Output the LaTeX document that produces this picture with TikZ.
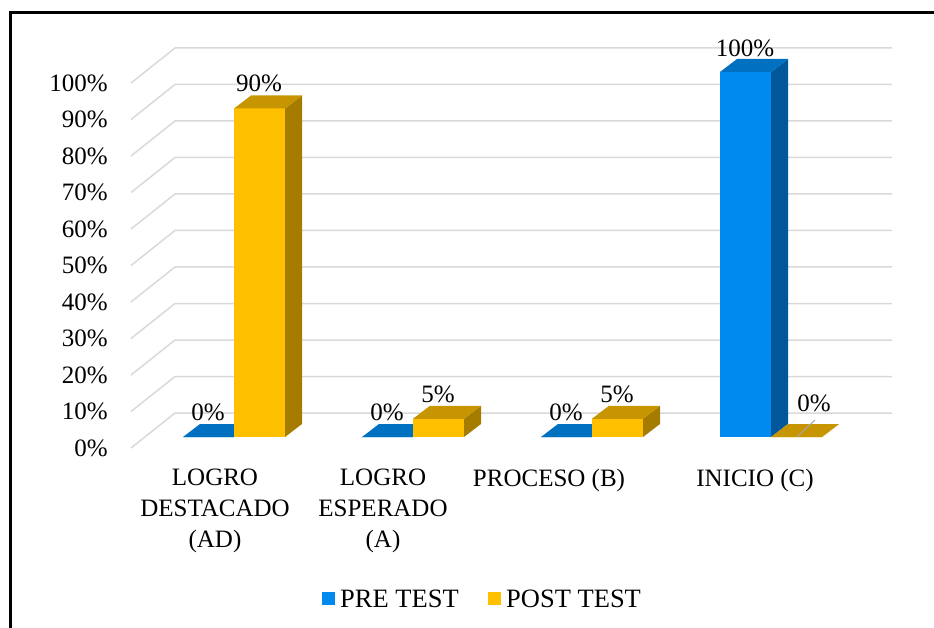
\documentclass[tikz,border=0pt]{standalone}
\usepackage{fontspec}
\setmainfont{Liberation Serif}
\usetikzlibrary{positioning}
\definecolor{prefr}{HTML}{0089EF}
\definecolor{pretop}{HTML}{0070C0}
\definecolor{preside}{HTML}{00589B}
\definecolor{postfr}{HTML}{FFC000}
\definecolor{posttop}{HTML}{C79500}
\definecolor{postside}{HTML}{A67C00}
\definecolor{gridc}{HTML}{D9D9D9}
\tikzset{
  gline/.style={gridc,line width=1.5pt},
  lbl/.style={font=\fontsize{25}{31}\selectfont,inner sep=0pt,text=black},
  leg/.style={lbl,font=\fontsize{26.5}{31}\selectfont},
  lead/.style={gray!70,line width=1pt},
  frame/.style={black,line width=3pt}
}
% one 3D bar: left x, value, colour prefix, label name
\newcommand{\cbar}[4]{%
  \pgfmathsetmacro{\h}{3.65*#2}
  \fill[#3fr] (#1,437) rectangle ++(51,-\h);
  \fill[#3side] (#1+51,437) -- ++(17,-13) -- ++(0,-\h) -- ++(-17,13) -- cycle;
  \fill[#3top] (#1,437-\h) -- ++(17,-13) -- ++(51,0) -- ++(-17,13) -- cycle;
}

\begin{document}
\begin{tikzpicture}[x=1pt,y=-1pt]
\useasboundingbox (0,0) rectangle (934,628);
\draw[frame] (934,13) -- (10,13) -- (10,628);
% grid and axis
\foreach \v in {0,10,...,100}{
  \draw[gline] (131,448-3.65*\v) -- ++(44,-35) -- (892,413-3.65*\v);
  \node[lbl,anchor=east] (y\v) at (108,448-3.65*\v) {\v\%};
}
% bars
\cbar{183}{0}{pre}{}
\cbar{234}{90}{post}{}
\cbar{362}{0}{pre}{}
\cbar{413}{5}{post}{}
\cbar{541}{0}{pre}{}
\cbar{592}{5}{post}{}
\cbar{720}{100}{pre}{}
\cbar{771}{0}{post}{}
% value labels
\node[lbl,anchor=base] (v1) at (208,420) {0\%};
\node[lbl,anchor=base] (v2) at (259,92) {90\%};
\node[lbl,anchor=base] (v3) at (387,420) {0\%};
\node[lbl,anchor=base] (v4) at (438,402) {5\%};
\node[lbl,anchor=base] (v5) at (566,420) {0\%};
\node[lbl,anchor=base] (v6) at (617,402) {5\%};
\node[lbl,anchor=base] (v7) at (745,57) {100\%};
\node[lbl,anchor=base] (v8) at (814,411) {0\%};
\coordinate (z8) at (797,437);
\draw[lead] (z8) -- ++(18,-17);
% categories
\node[lbl,align=center,anchor=north] (c1) at (215,469) {LOGRO\\DESTACADO\\(AD)};
\node[lbl,align=center,anchor=north] (c2) at (383,469) {LOGRO\\ESPERADO\\(A)};
\node[lbl,align=center,anchor=north] (c3) at (549,469) {PROCESO (B)};
\node[lbl,align=center,anchor=north] (c4) at (755,469) {INICIO (C)};
% legend
\fill[prefr] (322,592) rectangle (335,605);
\node[leg,anchor=base west] (l1) at (340,607) {PRE TEST};
\fill[postfr] (488,592) rectangle (501,605);
\node[leg,anchor=base west] (l2) at (506,607) {POST TEST};
\end{tikzpicture}
\end{document}
